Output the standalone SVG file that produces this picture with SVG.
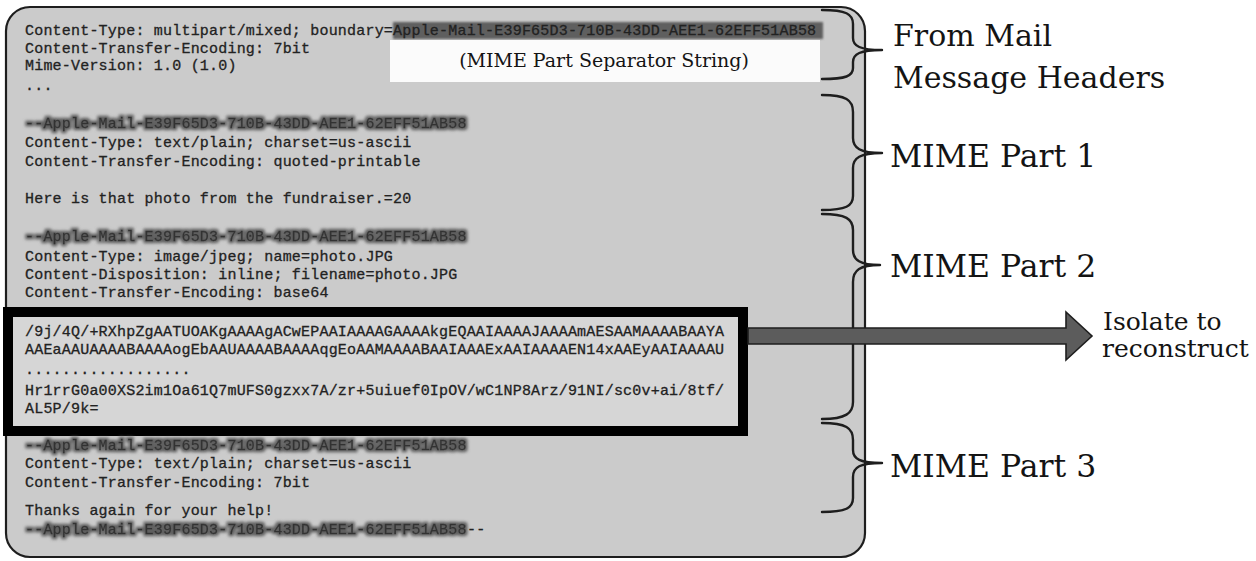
<svg xmlns="http://www.w3.org/2000/svg" width="1256" height="561" viewBox="0 0 1256 561">
<style>
  .mono { font-family: "Liberation Mono", "DejaVu Sans Mono", monospace; font-size: 15px; letter-spacing: 0.2px; fill: #222222; stroke: #222222; stroke-width: 0.3px; }
  .sep { fill: #333333; stroke: #333333; }
  .serif { font-family: "DejaVu Serif", "Liberation Serif", serif; fill: #141414; }
  .brace { fill: none; stroke: #1e1e1e; stroke-width: 2.4; stroke-linecap: round; }
</style>
<defs>
  <filter id="halo" x="-5%" y="-60%" width="110%" height="220%">
    <feMorphology in="SourceAlpha" operator="dilate" radius="2.2" result="d"/>
    <feGaussianBlur in="d" stdDeviation="1.7" result="b"/>
    <feFlood flood-color="#5e5e5e"/>
    <feComposite in2="b" operator="in" result="h"/>
    <feMerge><feMergeNode in="h"/><feMergeNode in="SourceGraphic"/></feMerge>
  </filter>
  <filter id="soft" x="-5%" y="-50%" width="110%" height="200%">
    <feGaussianBlur stdDeviation="1.2"/>
  </filter>
</defs>
<rect width="1256" height="561" fill="#ffffff"/>

<g id="email-box">
  <rect x="6" y="7" width="859" height="550" rx="24" ry="24" fill="#cbcbcb" stroke="#1e1e1e" stroke-width="2.2"/>
</g>

<g id="headers">
  <rect x="393" y="22" width="430" height="17" fill="#5e5e5e" filter="url(#soft)"/>
  <text class="mono" x="25" y="35">Content-Type: multipart/mixed; boundary=Apple-Mail-E39F65D3-710B-43DD-AEE1-62EFF51AB58</text>
  <text class="mono" x="25" y="53">Content-Transfer-Encoding: 7bit</text>
  <text class="mono" x="25" y="70">Mime-Version: 1.0 (1.0)</text>
  <text class="mono" x="25" y="90">...</text>
  <g id="separator-note">
    <rect x="390" y="40" width="430" height="42" fill="#fbfbfb"/>
    <text class="serif" x="604" y="67" font-size="19" text-anchor="middle">(MIME Part Separator String)</text>
  </g>
</g>

<g id="part1">
  <text class="mono sep" x="25" y="128" filter="url(#halo)">--Apple-Mail-E39F65D3-710B-43DD-AEE1-62EFF51AB58</text>
  <text class="mono" x="25" y="147">Content-Type: text/plain; charset=us-ascii</text>
  <text class="mono" x="25" y="166">Content-Transfer-Encoding: quoted-printable</text>
  <text class="mono" x="25" y="203">Here is that photo from the fundraiser.=20</text>
</g>

<g id="part2">
  <text class="mono sep" x="25" y="241" filter="url(#halo)">--Apple-Mail-E39F65D3-710B-43DD-AEE1-62EFF51AB58</text>
  <text class="mono" x="25" y="261">Content-Type: image/jpeg; name=photo.JPG</text>
  <text class="mono" x="25" y="279">Content-Disposition: inline; filename=photo.JPG</text>
  <text class="mono" x="25" y="297">Content-Transfer-Encoding: base64</text>
</g>

<g id="payload">
  <rect x="8" y="312" width="735" height="119" fill="#d6d6d6" stroke="#000000" stroke-width="10"/>
  <text class="mono" x="25" y="336">/9j/4Q/+RXhpZgAATUOAKgAAAAgACwEPAAIAAAAGAAAAkgEQAAIAAAAJAAAAmAESAAMAAAABAAYA</text>
  <text class="mono" x="25" y="354">AAEaAAUAAAABAAAAogEbAAUAAAABAAAAqgEoAAMAAAABAAIAAAExAAIAAAAEN14xAAEyAAIAAAAU</text>
  <text class="mono" x="25" y="374">..................</text>
  <text class="mono" x="25" y="395">Hr1rrG0a00XS2im1Oa61Q7mUFS0gzxx7A/zr+5uiuef0IpOV/wC1NP8Arz/91NI/sc0v+ai/8tf/</text>
  <text class="mono" x="25" y="413">AL5P/9k=</text>
</g>

<g id="part3">
  <text class="mono sep" x="25" y="450" filter="url(#halo)">--Apple-Mail-E39F65D3-710B-43DD-AEE1-62EFF51AB58</text>
  <text class="mono" x="25" y="468">Content-Type: text/plain; charset=us-ascii</text>
  <text class="mono" x="25" y="487">Content-Transfer-Encoding: 7bit</text>
  <text class="mono" x="25" y="515">Thanks again for your help!</text>
  <text class="mono sep" x="25" y="534" filter="url(#halo)">--Apple-Mail-E39F65D3-710B-43DD-AEE1-62EFF51AB58</text>
  <text class="mono" x="467" y="534">--</text>
</g>

<g id="connectors">
  <path class="brace" d="M 822,10 C 846,10 853,14 853,24 L 853,38 C 853,46 860,50 882,50 M 882,50 C 860,50 853,54 853,62 L 853,68 C 853,76 846,79 822,79"/>
  <path class="brace" d="M 822,95 C 846,95 853,100 853,112 L 853,138 C 853,148 860,153 882,153 M 882,153 C 860,153 853,158 853,168 L 853,196 C 853,206 846,210 822,210"/>
  <path class="brace" d="M 822,214 C 846,214 853,219 853,230 L 853,250 C 853,260 860,265 880,265 M 880,265 C 860,265 853,270 853,282 L 853,402 C 853,413 846,419 822,419"/>
  <path class="brace" d="M 822,423 C 846,423 853,428 853,440 L 853,450 C 853,459 860,463 882,463 M 882,463 C 860,463 853,467 853,477 L 853,498 C 853,508 846,512 822,512"/>
  <path id="isolate-arrow" d="M 748,328 L 1066,328 L 1066,312 L 1092,336 L 1066,360 L 1066,344 L 748,344 Z" fill="#5c5c5c" stroke="#1e1e1e" stroke-width="1.6" stroke-linejoin="miter"/>
</g>

<g id="labels">
  <g id="label-headers">
    <text class="serif" x="893" y="46" font-size="30">From Mail</text>
    <text class="serif" x="893" y="88" font-size="30">Message Headers</text>
  </g>
  <text id="label-part1" class="serif" x="890" y="167" font-size="31.5">MIME Part 1</text>
  <text id="label-part2" class="serif" x="890" y="277" font-size="31.5">MIME Part 2</text>
  <text id="label-part3" class="serif" x="890" y="477" font-size="31.5">MIME Part 3</text>
  <g id="label-isolate">
    <text class="serif" x="1103" y="330" font-size="25">Isolate to</text>
    <text class="serif" x="1102" y="357" font-size="25">reconstruct</text>
  </g>
</g>
</svg>
